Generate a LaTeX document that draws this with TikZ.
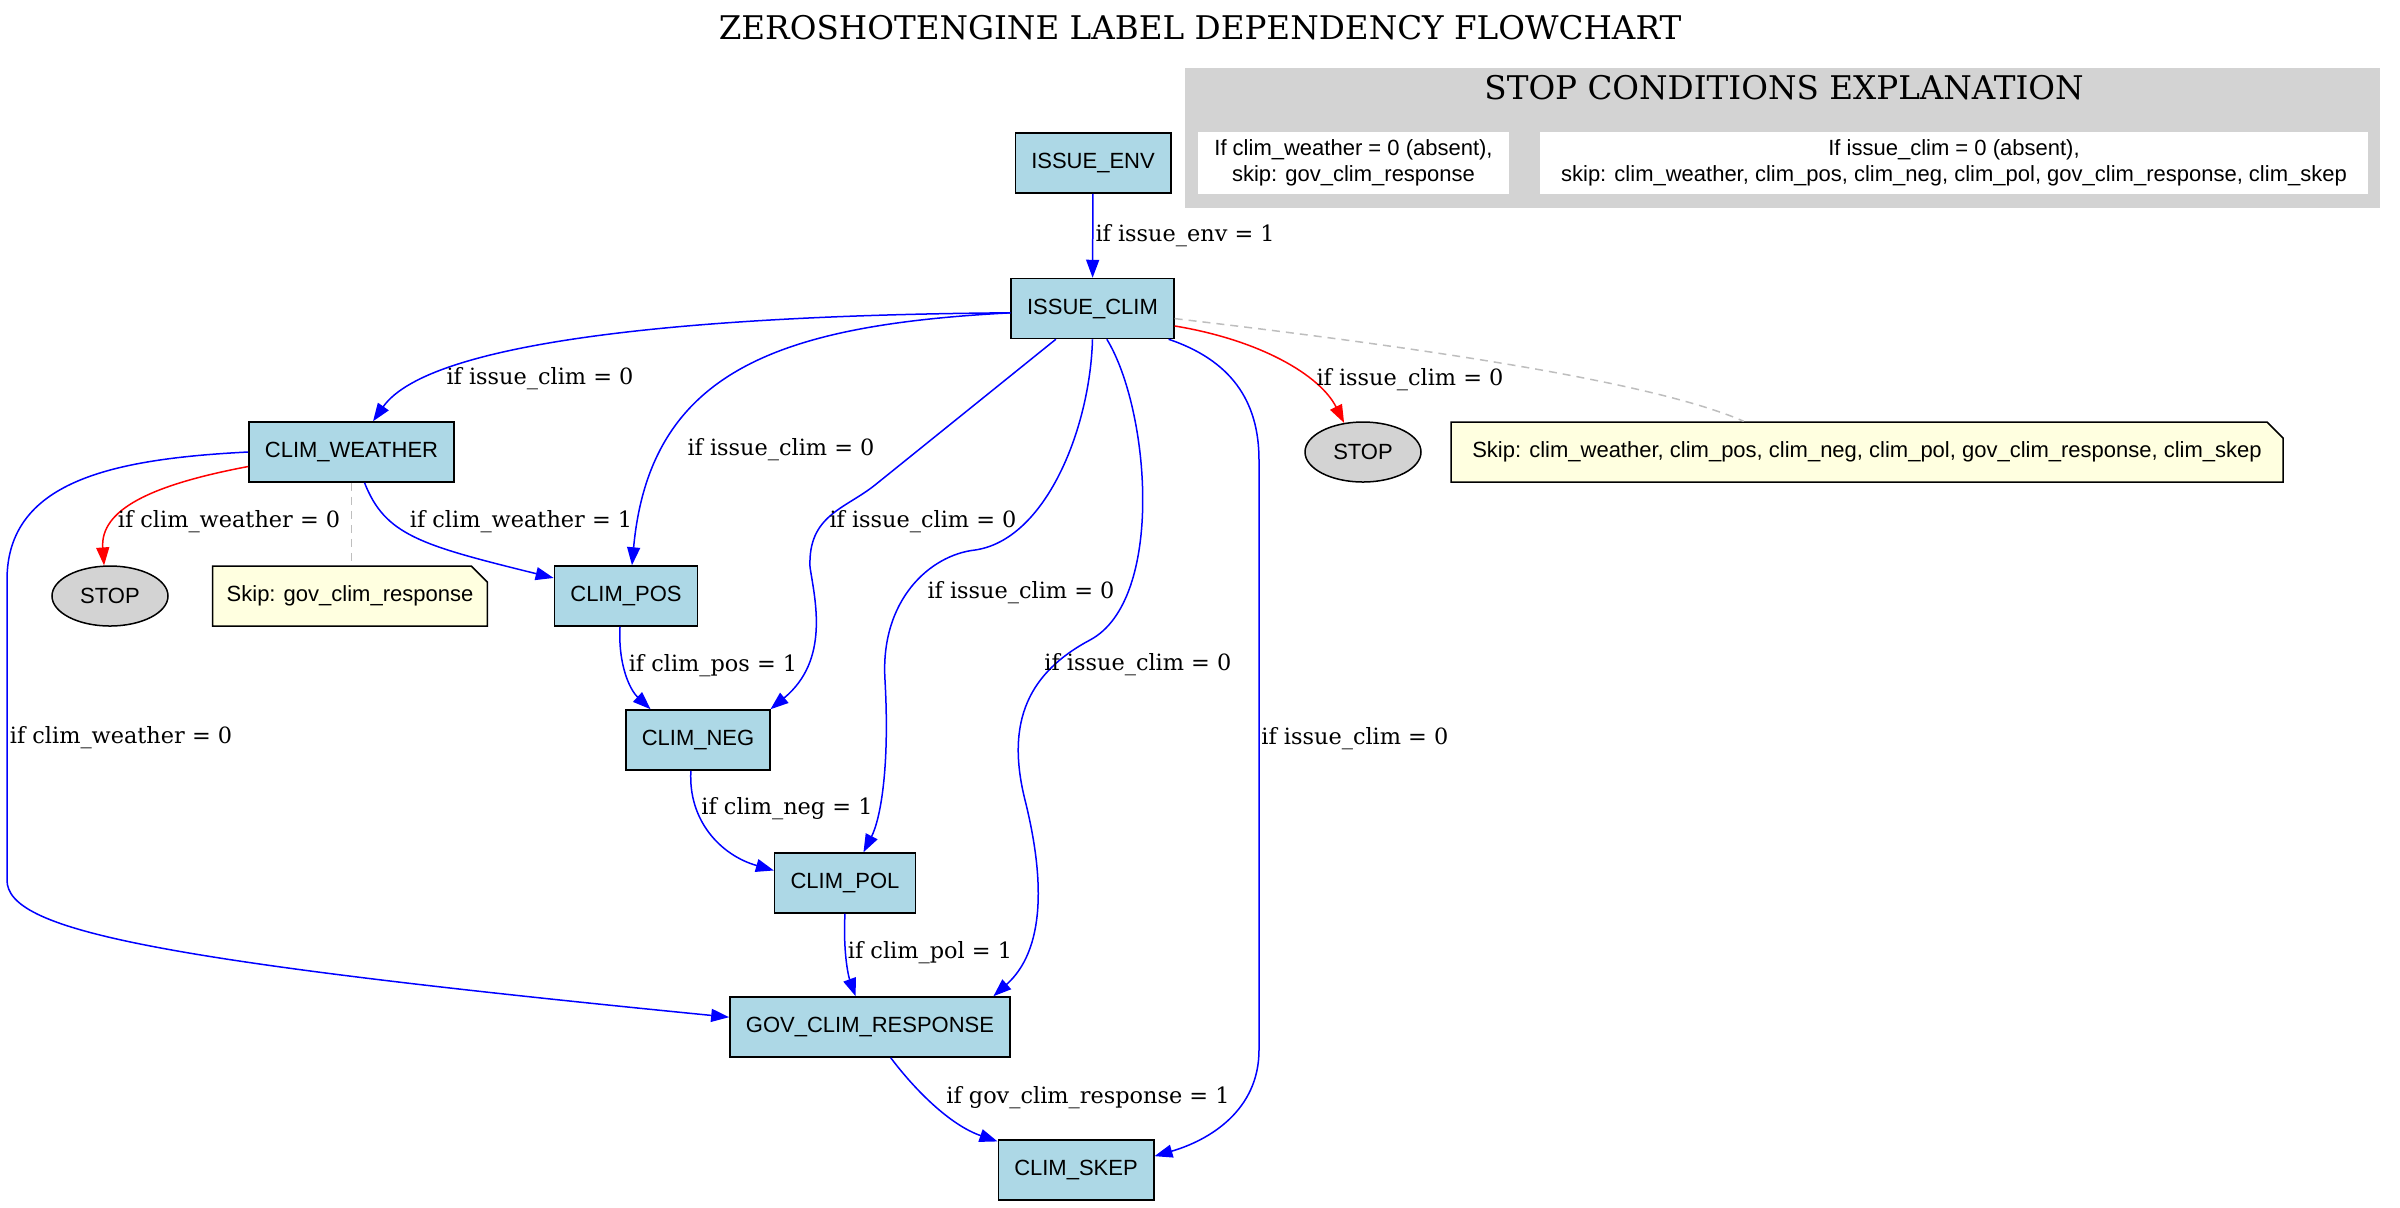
\documentclass[tikz,border=0pt]{standalone}
\usepackage{fontspec}
\usepackage{xcolor}
\usepackage{tikz}
\usetikzlibrary{arrows.meta,shapes.geometric,shapes.misc}
\newfontfamily\boxfont{Liberation Sans}
\newfontfamily\condfont{DejaVu Serif}
\definecolor{fieldblue}{HTML}{ADD8E6}
\definecolor{notecream}{HTML}{FFFFE0}
\definecolor{stopgrey}{HTML}{D3D3D3}
\definecolor{skipgrey}{HTML}{BEBEBE}
\definecolor{yesblue}{HTML}{0000FF}
\definecolor{nored}{HTML}{FF0000}
\tikzset{
  field/.style={rectangle, draw=black, fill=fieldblue, line width=0.75pt,
                minimum height=30pt, inner xsep=8pt, font=\boxfont\fontsize{11}{13}\selectfont},
  stopnode/.style={ellipse, draw=black, fill=stopgrey, line width=0.75pt, minimum width=58pt,
                   minimum height=30pt, inner sep=0pt, font=\boxfont\fontsize{11}{13}\selectfont},
  skipnote/.style={chamfered rectangle, chamfered rectangle corners=north east,
                   chamfered rectangle xsep=4pt, chamfered rectangle ysep=4pt,
                   draw=black, fill=notecream, line width=0.75pt, minimum height=30pt, inner xsep=3pt,
                   font=\boxfont\fontsize{11}{13}\selectfont,
                   path picture={\draw[line width=0.5pt] ([xshift=-4pt]path picture bounding box.north east)
                                   -- ++(0,-4pt) -- ++(4pt,0);}},
  explain/.style={rectangle, fill=white, minimum height=31pt, inner xsep=8pt, align=center,
                  font=\boxfont\fontsize{11}{13}\selectfont},
  cond/.style={font=\condfont\fontsize{11.2}{13}\selectfont, inner sep=1pt},
  heading/.style={font=\condfont\fontsize{16.3}{19}\selectfont},
  arr/.style={-{Triangle[length=9pt,width=6.5pt]}, line width=0.75pt, draw=yesblue},
  stoparr/.style={arr, draw=nored},
  skiplink/.style={draw=skipgrey, line width=0.75pt, dash pattern=on 4pt off 3pt},
}

\begin{document}
\begin{tikzpicture}[x=0.5pt, y=-0.5pt]
  \useasboundingbox (0,0) rectangle (2400,1207);
  \node[heading] (title) at (1200,28) {ZEROSHOTENGINE LABEL DEPENDENCY FLOWCHART};

  % stop conditions cluster
  \fill[stopgrey] (1185,68) rectangle (2380,208);
  \node[heading] (ctitle) at (1784,88) {STOP CONDITIONS EXPLANATION};
  \node[explain, minimum width=155.5pt] (ex1) at (1353.5,163) {If clim\_weather = 0 (absent),\\ skip: gov\_clim\_response};
  \node[explain, minimum width=414pt] (ex2) at (1954,163) {If issue\_clim = 0 (absent),\\ skip: clim\_weather, clim\_pos, clim\_neg, clim\_pol, gov\_clim\_response, clim\_skep};

  % label fields
  \node[field] (ienv) at (1093,163) {ISSUE\_ENV};
  \node[field] (iclim) at (1092.5,308.5) {ISSUE\_CLIM};
  \node[field] (cweather) at (351.5,452) {CLIM\_WEATHER};
  \node[field] (cpos) at (626,596) {CLIM\_POS};
  \node[field] (cneg) at (698,740) {CLIM\_NEG};
  \node[field] (cpol) at (845,883) {CLIM\_POL};
  \node[field] (gov) at (870,1027) {GOV\_CLIM\_RESPONSE};
  \node[field] (cskep) at (1076,1170) {CLIM\_SKEP};
  \node[stopnode] (stopL) at (110,596) {STOP};
  \node[stopnode] (stopR) at (1363,452) {STOP};
  \node[skipnote] (noteL) at (350,596) {Skip: gov\_clim\_response};
  \node[skipnote, minimum width=416pt] (noteR) at (1867,452) {Skip: clim\_weather, clim\_pos, clim\_neg, clim\_pol, gov\_clim\_response, clim\_skep};

  % edges
  \draw[arr] (ienv) -- node[cond, right] (lenv) {if issue\_env = 1} (iclim);
  \draw[arr] (iclim.183) .. controls (700,315) and (430,340) .. (cweather.55);
  \draw[arr] (iclim.183) .. controls (780,325) and (650,370) .. (cpos.79);
  \draw[arr] (iclim.220) -- (875,485) .. controls (845,509) and (808,515) .. (810,567)
    .. controls (815,600) and (830,660) .. (cneg.23);
  \draw[arr] (iclim.south) .. controls (1090,430) and (1045,540) .. (975,550)
    .. controls (930,555) and (880,600) .. (885,680) .. controls (890,770) and (880,820) .. (cpol.59);
  \draw[arr] (iclim.295) .. controls (1150,410) and (1165,600) .. (1090,640)
    .. controls (1030,672) and (1005,720) .. (1025,800) .. controls (1045,880) and (1045,950) .. (gov.14);
  \draw[arr] (iclim.338) .. controls (1230,360) and (1259,400) .. (1259,460) -- (1259,1050)
    .. controls (1259,1110) and (1210,1140) .. (cskep.10);
  \draw[stoparr] (iclim.348) .. controls (1260,340) and (1320,375) .. (stopR.123);
  \draw[skiplink] (iclim.353) .. controls (1400,345) and (1650,380) .. (noteR.166);

  \draw[stoparr] (cweather.188) .. controls (150,485) and (100,510) .. (stopL.101);
  \draw[skiplink] (cweather.south) -- (cweather.south |- noteL.north);
  \draw[arr] (cweather.293) .. controls (385,535) and (420,545) .. (cpos.166);
  \draw[arr] (cweather.west) .. controls (110,459) and (7,482) .. (7,580) -- (7,880)
    .. controls (7,930) and (150,960) .. (gov.176);
  \draw[arr] (cpos.259) .. controls (618,665) and (630,690) .. (cneg.147);
  \draw[arr] (cneg.257) .. controls (688,820) and (720,855) .. (cpol.170);
  \draw[arr] (cpol.south) .. controls (843,950) and (848,975) .. (gov.115);
  \draw[arr] (gov.304) .. controls (915,1090) and (950,1125) .. (cskep.160);

  % edge labels
  \node[cond] (lweather) at (540,379) {if issue\_clim = 0};
  \node[cond] (lpos) at (781,450) {if issue\_clim = 0};
  \node[cond] (lneg) at (923,522) {if issue\_clim = 0};
  \node[cond] (lpol) at (1021,593) {if issue\_clim = 0};
  \node[cond, anchor=west] (lgov) at (1042,665) {if issue\_clim = 0};
  \node[cond, anchor=west] (lskep) at (1259,739) {if issue\_clim = 0};
  \node[cond] (lstopR) at (1410,380) {if issue\_clim = 0};
  \node[cond] (lstopL) at (229,522) {if clim\_weather = 0};
  \node[cond] (lwpos) at (521,522) {if clim\_weather = 1};
  \node[cond] (lwgov) at (121,738) {if clim\_weather = 0};
  \node[cond] (lposneg) at (713,666) {if clim\_pos = 1};
  \node[cond] (lnegpol) at (787,809) {if clim\_neg = 1};
  \node[cond] (lpolgov) at (930,953) {if clim\_pol = 1};
  \node[cond] (lgovskep) at (1088,1098) {if gov\_clim\_response = 1};
\end{tikzpicture}
\end{document}
